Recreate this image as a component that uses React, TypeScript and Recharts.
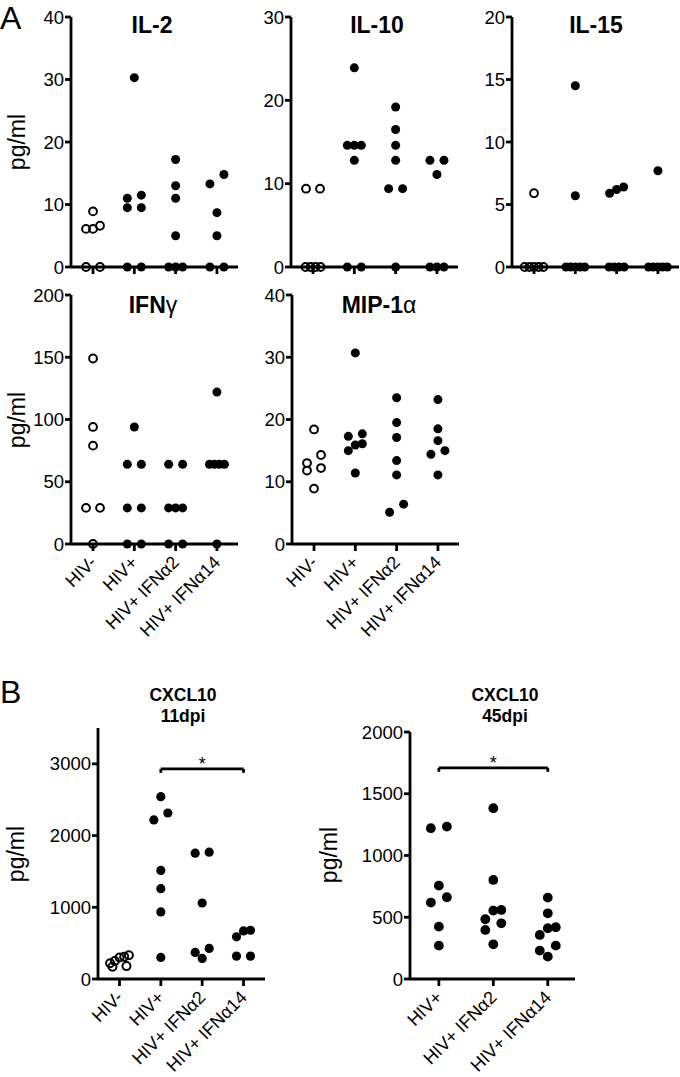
import React from 'react';
import { ScatterChart, Scatter, XAxis, YAxis, ReferenceLine } from 'recharts';

const FONT = '"Liberation Sans", Arial, Helvetica, sans-serif';

// ---------- categories ----------
const groupLabels = ['HIV-', 'HIV+', 'HIV+ IFNα2', 'HIV+ IFNα14'];
const groupLabels45 = ['HIV+', 'HIV+ IFNα2', 'HIV+ IFNα14'];

// ---------- tick labels ----------
const il2Ticks = [0, 10, 20, 30, 40];
const il10Ticks = [0, 10, 20, 30];
const il15Ticks = [0, 5, 10, 15, 20];
const ifngTicks = [0, 50, 100, 150, 200];
const mipTicks = [0, 10, 20, 30, 40];
const cxcl11Ticks = [0, 1000, 2000, 3000];
const cxcl45Ticks = [0, 500, 1000, 1500, 2000];

// ---------- IL-2 (pg/ml) ----------
const il2HivNeg = [8.9, 6.6, 6.1, 6.1, 0, 0];
const il2HivPos = [30.3, 11.5, 11.0, 9.5, 9.5, 0, 0];
const il2Ifna2 = [17.2, 13.0, 11.0, 5.0, 0, 0, 0];
const il2Ifna14 = [14.8, 13.3, 8.7, 5.0, 0, 0];

// ---------- IL-10 ----------
const il10HivNeg = [9.4, 9.4, 0, 0, 0, 0];
const il10HivPos = [23.9, 14.6, 14.6, 14.6, 12.8, 0, 0];
const il10Ifna2 = [19.2, 16.5, 14.6, 12.8, 9.4, 9.4, 0];
const il10Ifna14 = [12.8, 12.8, 11.1, 0, 0, 0];

// ---------- IL-15 ----------
const il15HivNeg = [5.9, 0, 0, 0, 0, 0];
const il15HivPos = [14.5, 5.7, 0, 0, 0, 0, 0];
const il15Ifna2 = [6.4, 6.2, 5.9, 0, 0, 0, 0];
const il15Ifna14 = [7.7, 0, 0, 0, 0, 0];

// ---------- IFN-gamma ----------
const ifngHivNeg = [149, 94, 79, 29, 29, 0];
const ifngHivPos = [94, 64, 64, 29, 29, 0, 0];
const ifngIfna2 = [64, 64, 29, 29, 29, 0, 0];
const ifngIfna14 = [122, 64, 64, 64, 64, 0];

// ---------- MIP-1 alpha ----------
const mipHivNeg = [18.4, 14.3, 13.0, 12.2, 11.8, 8.9];
const mipHivPos = [30.7, 17.7, 17.3, 16.1, 15.9, 15.0, 11.4];
const mipIfna2 = [23.5, 19.5, 17.1, 13.4, 11.1, 6.4, 5.1];
const mipIfna14 = [23.2, 18.5, 16.6, 15.0, 14.4, 11.1];

// ---------- CXCL10 11 dpi ----------
const cx11HivNeg = [330, 310, 300, 250, 220, 180, 170];
const cx11HivPos = [2542, 2315, 2218, 1514, 1259, 935, 301];
const cx11Ifna2 = [1769, 1755, 1060, 426, 370, 287];
const cx11Ifna14 = [680, 671, 588, 319, 319];

// ---------- CXCL10 45 dpi ----------
const cx45HivPos = [1234, 1221, 756, 662, 619, 424, 270];
const cx45Ifna2 = [1383, 802, 559, 554, 484, 451, 397, 281];
const cx45Ifna14 = [659, 532, 419, 411, 357, 270, 230, 181];

// ---------- significance brackets ----------
const cx11SigY = 2930;
const cx11SigTickY = 2875;
const cx45SigY = 1710;
const cx45SigTickY = 1678;

// ---------- layout helpers ----------
type Group = { values: number[]; open: boolean };

// GraphPad-like scatter: values closer than ~one dot are spread side by side
function swarm(values: number[], cat: number, pxPerUnit: number, pxPerCat: number, spread: number) {
  const T = 9.5;
  const sorted = values.map((v) => v).sort((a, b) => b - a);
  const rows: number[][] = [];
  for (const v of sorted) {
    const row = rows[rows.length - 1];
    if (row && (row[0] - v) * pxPerUnit <= T) row.push(v);
    else rows.push([v]);
  }
  const pts: { x: number; y: number }[] = [];
  for (const row of rows) {
    const r = [...row].sort((a, b) => a - b);
    const n = r.length;
    const half = n === 1 ? 0 : n <= 3 ? spread : spread + 0.5 + (n - 4) * 1.9;
    const step = n > 1 ? (2 * half) / (n - 1) : 0;
    r.forEach((v, i) => {
      const off = -half + i * step;
      pts.push({ x: cat + off / pxPerCat, y: v });
    });
  }
  return pts;
}

const AXW = 2.8;
const axisStyle = { stroke: '#000', strokeWidth: AXW };

const makeXTick = (labels: string[], show: boolean) => (props: any) => {
  const { x, y, payload } = props;
  if (!show) return <g />;
  const label = labels[payload.value] ?? '';
  return (
    <g transform={`translate(${x},${y + 6})`}>
      <text x={0} y={0} dy="0.35em" textAnchor="end" transform="rotate(-45)" fontSize={18} fontFamily={FONT} fill="#000" stroke="none">
        {label}
      </text>
    </g>
  );
};

type PanelProps = {
  left: number;
  top: number;
  plotW: number;
  plotH: number;
  yMax: number;
  yTicks: number[];
  xMin: number;
  xMax: number;
  labels: string[];
  groups: Group[];
  showXLabels: boolean;
  spread: number;
  r: number;
  bracket?: { from: number; to: number; y: number; tickY: number };
};

function Panel(p: PanelProps) {
  const YW = 64;
  const MT = 14;
  const MR = 14;
  const XH = 115;
  const pxPerUnit = p.plotH / p.yMax;
  const pxPerCat = p.plotW / (p.xMax - p.xMin);
  return (
    <div style={{ position: 'absolute', left: p.left - YW, top: p.top - MT }}>
      <ScatterChart
        width={YW + p.plotW + MR}
        height={MT + p.plotH + XH}
        margin={{ top: MT, right: MR, left: 0, bottom: 0 }}
      >
        <XAxis
          type="number"
          dataKey="x"
          domain={[p.xMin, p.xMax]}
          ticks={p.labels.map((_, i) => i)}
          interval={0}
          tick={makeXTick(p.labels, p.showXLabels)}
          tickSize={7}
          tickMargin={2}
          stroke="#000"
          strokeWidth={AXW}
          axisLine={axisStyle}
          tickLine={axisStyle}
          height={XH}
        />
        <YAxis
          type="number"
          dataKey="y"
          domain={[0, p.yMax]}
          ticks={p.yTicks}
          interval={0}
          width={YW}
          tickSize={6}
          tickMargin={1}
          stroke="#000"
          strokeWidth={AXW}
          axisLine={axisStyle}
          tickLine={axisStyle}
          tick={{ fontSize: 18.5, fill: '#000', fontFamily: FONT, stroke: 'none' }}
        />
        {p.groups.map((g, gi) => (
          <Scatter
            key={gi}
            data={swarm(g.values, gi, pxPerUnit, pxPerCat, p.spread)}
            isAnimationActive={false}
            shape={(s: any) =>
              g.open ? (
                <circle cx={s.cx} cy={s.cy} r={p.r - 0.6} fill="none" stroke="#000" strokeWidth={2} />
              ) : (
                <circle cx={s.cx} cy={s.cy} r={p.r} fill="#000" />
              )
            }
          />
        ))}
        {p.bracket && (
          <ReferenceLine
            segment={[
              { x: p.bracket.from, y: p.bracket.y },
              { x: p.bracket.to, y: p.bracket.y },
            ]}
            stroke="#000"
            strokeWidth={AXW}
            ifOverflow="visible"
            label={{
              content: (lp: any) => {
                const vb = lp.viewBox || {};
                return (
                  <text x={vb.x + (vb.width || 0) / 2} y={vb.y + 1} textAnchor="middle" fontSize={18} fontFamily={FONT} fill="#000">
                    *
                  </text>
                );
              },
            }}
          />
        )}
        {p.bracket && (
          <ReferenceLine
            segment={[
              { x: p.bracket.from, y: p.bracket.y },
              { x: p.bracket.from, y: p.bracket.tickY },
            ]}
            stroke="#000"
            strokeWidth={AXW}
            ifOverflow="visible"
          />
        )}
        {p.bracket && (
          <ReferenceLine
            segment={[
              { x: p.bracket.to, y: p.bracket.y },
              { x: p.bracket.to, y: p.bracket.tickY },
            ]}
            stroke="#000"
            strokeWidth={AXW}
            ifOverflow="visible"
          />
        )}
      </ScatterChart>
    </div>
  );
}

const AX_MIN = -0.533;
const AX_MAX = 3.51;

export default function App() {
  const rowA1 = { top: 17, plotH: 250, plotW: 167, xMin: AX_MIN, xMax: AX_MAX, labels: groupLabels, showXLabels: false, spread: 7, r: 4.5 };
  const rowA2 = { top: 295, plotH: 249, plotW: 167, xMin: AX_MIN, xMax: AX_MAX, labels: groupLabels, showXLabels: true, spread: 7, r: 4.5 };
  const titleStyle = { fontFamily: FONT, fontWeight: 700 as const, fill: '#000' };
  return (
    <div style={{ position: 'absolute', left: 0, top: 0, width: 680, height: 1077, background: '#fff', overflow: 'hidden' }}>
      <Panel {...rowA1} left={71} yMax={40} yTicks={il2Ticks}
        groups={[{ values: il2HivNeg, open: true }, { values: il2HivPos, open: false }, { values: il2Ifna2, open: false }, { values: il2Ifna14, open: false }]} />
      <Panel {...rowA1} left={291} yMax={30} yTicks={il10Ticks}
        groups={[{ values: il10HivNeg, open: true }, { values: il10HivPos, open: false }, { values: il10Ifna2, open: false }, { values: il10Ifna14, open: false }]} />
      <Panel {...rowA1} left={512} yMax={20} yTicks={il15Ticks}
        groups={[{ values: il15HivNeg, open: true }, { values: il15HivPos, open: false }, { values: il15Ifna2, open: false }, { values: il15Ifna14, open: false }]} />
      <Panel {...rowA2} left={71} yMax={200} yTicks={ifngTicks}
        groups={[{ values: ifngHivNeg, open: true }, { values: ifngHivPos, open: false }, { values: ifngIfna2, open: false }, { values: ifngIfna14, open: false }]} />
      <Panel {...rowA2} left={292} yMax={40} yTicks={mipTicks}
        groups={[{ values: mipHivNeg, open: true }, { values: mipHivPos, open: false }, { values: mipIfna2, open: false }, { values: mipIfna14, open: false }]} />
      <Panel left={98} top={728} plotW={167} plotH={251} yMax={3500} yTicks={cxcl11Ticks} xMin={-0.52} xMax={3.52}
        labels={groupLabels} showXLabels={true} spread={7} r={4.6}
        groups={[{ values: cx11HivNeg, open: true }, { values: cx11HivPos, open: false }, { values: cx11Ifna2, open: false }, { values: cx11Ifna14, open: false }]}
        bracket={{ from: 1, to: 3, y: cx11SigY, tickY: cx11SigTickY }} />
      <Panel left={410} top={732} plotW={165} plotH={247} yMax={2000} yTicks={cxcl45Ticks} xMin={-0.53} xMax={2.5}
        labels={groupLabels45} showXLabels={true} spread={8} r={4.9}
        groups={[{ values: cx45HivPos, open: false }, { values: cx45Ifna2, open: false }, { values: cx45Ifna14, open: false }]}
        bracket={{ from: 0, to: 2, y: cx45SigY, tickY: cx45SigTickY }} />

      <svg width={680} height={1077} style={{ position: 'absolute', left: 0, top: 0, pointerEvents: 'none' }}>
        <text x={0} y={29} fontSize={32} fontFamily={FONT} fill="#000">A</text>
        <text x={0} y={703} fontSize={32} fontFamily={FONT} fill="#000">B</text>

        <text x={152} y={33} fontSize={23} textAnchor="middle" {...titleStyle}>IL-2</text>
        <text x={377} y={33} fontSize={23} textAnchor="middle" {...titleStyle}>IL-10</text>
        <text x={596} y={33} fontSize={23} textAnchor="middle" {...titleStyle}>IL-15</text>
        <text x={153} y={313} fontSize={23} textAnchor="middle" {...titleStyle}>
          IFN<tspan fontWeight={400}>γ</tspan>
        </text>
        <text x={379} y={313} fontSize={23} textAnchor="middle" {...titleStyle}>
          MIP-1<tspan fontWeight={400}>α</tspan>
        </text>
        <text x={183} y={701} fontSize={17.5} textAnchor="middle" {...titleStyle}>CXCL10</text>
        <text x={183} y={722} fontSize={17.5} textAnchor="middle" {...titleStyle}>11dpi</text>
        <text x={505} y={701} fontSize={17.5} textAnchor="middle" {...titleStyle}>CXCL10</text>
        <text x={505} y={722} fontSize={17.5} textAnchor="middle" {...titleStyle}>45dpi</text>

        <text transform="translate(17,142) rotate(-90)" dy="0.35em" textAnchor="middle" fontSize={23} fontFamily={FONT} fill="#000">pg/ml</text>
        <text transform="translate(17,420) rotate(-90)" dy="0.35em" textAnchor="middle" fontSize={23} fontFamily={FONT} fill="#000">pg/ml</text>
        <text transform="translate(16,854) rotate(-90)" dy="0.35em" textAnchor="middle" fontSize={23} fontFamily={FONT} fill="#000">pg/ml</text>
        <text transform="translate(329,855) rotate(-90)" dy="0.35em" textAnchor="middle" fontSize={23} fontFamily={FONT} fill="#000">pg/ml</text>
      </svg>
    </div>
  );
}
